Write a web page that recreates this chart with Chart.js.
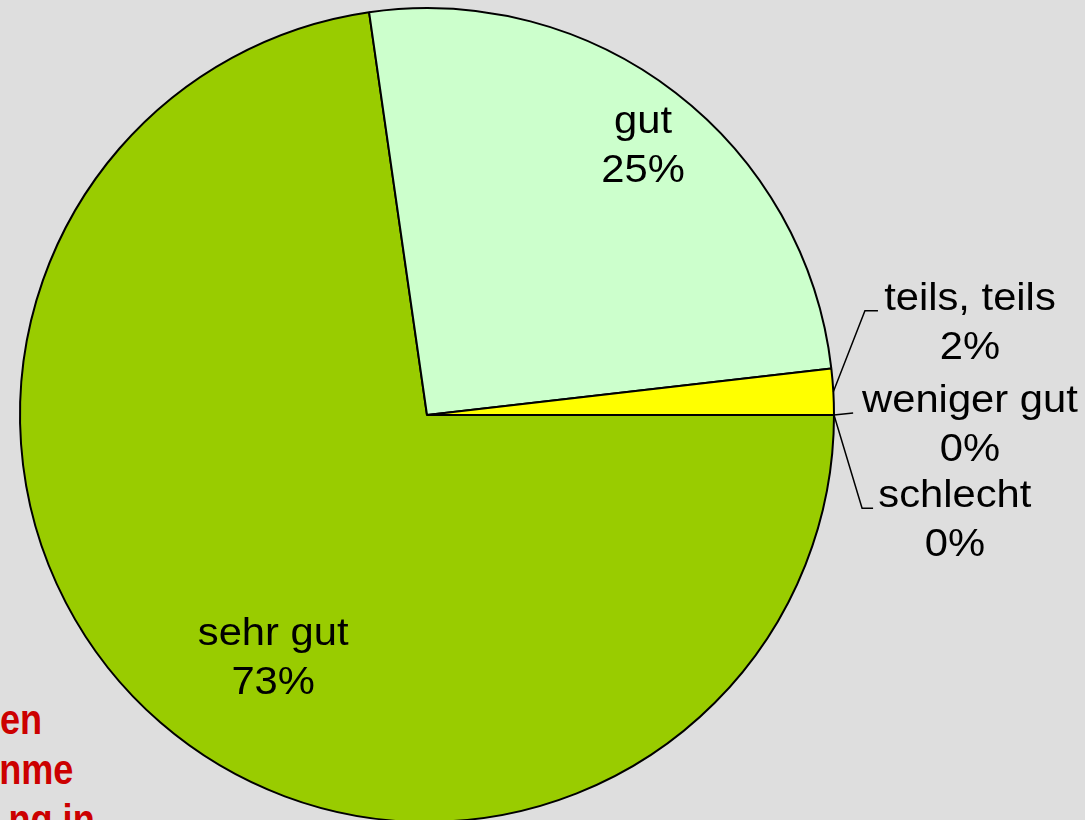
<!DOCTYPE html>
<html lang="de">
<head>
    <meta charset="UTF-8">
    <title>Bewertung</title>
    <script src="https://cdn.jsdelivr.net/npm/chart.js"></script>
    <style>
        html, body {
            margin: 0;
            padding: 0;
            width: 1085px;
            height: 820px;
            overflow: hidden;
            background-color: #dedede;
            font-family: "Liberation Sans", Arial, sans-serif;
        }

        .note {
            position: absolute;
            color: #cc0000;
            font-weight: bold;
            font-size: 43px;
            line-height: 50px;
            white-space: nowrap;
            transform: scaleX(0.84);
            transform-origin: right center;
        }

        #wrap {
            position: absolute;
            left: 0;
            top: 0;
        }
    </style>
</head>
<body>
    <!-- roter Text hinter dem Diagramm (abgeschnitten) -->
    <div class="note" style="right: 1043px; top: 694px;">en</div>
    <div class="note" style="right: 1012px; top: 744px;">nme</div>
    <div class="note" style="right: 990px; top: 794px;">ng in</div>

    <div id="wrap">
        <canvas id="pie" width="1085" height="830"></canvas>
    </div>

    <script>
        const categories = ['sehr gut', 'gut', 'teils, teils', 'weniger gut', 'schlecht'];
        const values = [40, 14, 1, 0, 0];
        const colors = ['#99cc00', '#ccffcc', '#ffff00', '#ff9900', '#ff0000'];

        // Lage der Beschriftungen, relativ zum Mittelpunkt in Radius-Einheiten
        const labelPos = [
            { x: -0.378, y: 0.565 },
            { x: 0.531, y: -0.693 },
            { x: 1.334, y: -0.258, elbow: [1.076, -0.256], end: [1.108, -0.256] },
            { x: 1.334, y: -0.007, elbow: [1.047, -0.005], end: [1.047, -0.005] },
            { x: 1.297, y: 0.226, elbow: [1.069, 0.229], end: [1.096, 0.229] }
        ];

        const total = values.reduce((a, b) => a + b, 0);

        // Text etwas in die Breite gezogen, wie im Original
        function wideText(ctx, txt, x, y) {
            ctx.save();
            ctx.translate(x, y);
            ctx.scale(1.07, 1);
            ctx.fillText(txt, 0, 0);
            ctx.restore();
        }

        const pieLabels = {
            id: 'pieLabels',
            afterDatasetsDraw(chart) {
                const ctx = chart.ctx;
                const meta = chart.getDatasetMeta(0);
                ctx.save();
                ctx.fillStyle = '#000';
                ctx.strokeStyle = '#000';
                ctx.lineWidth = 1.5;
                ctx.font = '39px "Liberation Sans", Arial, sans-serif';
                ctx.textAlign = 'center';
                ctx.textBaseline = 'alphabetic';

                meta.data.forEach((arc, i) => {
                    const cx = arc.x, cy = arc.y, r = arc.outerRadius;
                    const p = labelPos[i];

                    if (p.elbow) {
                        const mid = (arc.startAngle + arc.endAngle) / 2;
                        ctx.beginPath();
                        ctx.moveTo(cx + Math.cos(mid) * r, cy + Math.sin(mid) * r);
                        ctx.lineTo(cx + p.elbow[0] * r, cy + p.elbow[1] * r);
                        ctx.lineTo(cx + p.end[0] * r, cy + p.end[1] * r);
                        ctx.stroke();
                    }

                    const pct = Math.round(values[i] / total * 100) + '%';
                    const tx = cx + p.x * r;
                    const ty = cy + p.y * r;
                    wideText(ctx, categories[i], tx, ty);
                    wideText(ctx, pct, tx, ty + 49);
                });
                ctx.restore();
            }
        };

        const ctx = document.getElementById('pie').getContext('2d');
        new Chart(ctx, {
            type: 'pie',
            data: {
                labels: categories,
                datasets: [{
                    data: values,
                    backgroundColor: colors,
                    borderColor: '#000',
                    borderWidth: 2
                }]
            },
            options: {
                responsive: false,
                animation: false,
                rotation: 90,
                layout: {
                    padding: { left: 19, top: 7, right: 250, bottom: 7 }
                },
                plugins: {
                    legend: { display: false },
                    tooltip: { enabled: false }
                }
            },
            plugins: [pieLabels]
        });
    </script>
</body>
</html>
